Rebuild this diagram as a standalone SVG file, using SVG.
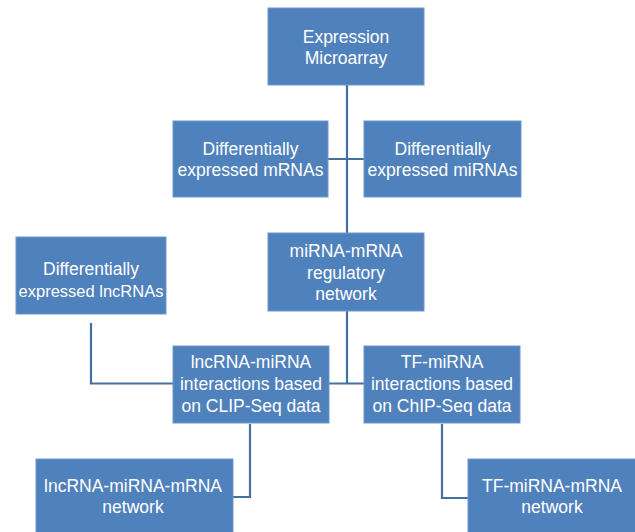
<svg xmlns="http://www.w3.org/2000/svg" width="635" height="532" viewBox="0 0 635 532">
<style>
.box{fill:#4F81BD;stroke:#6F97CB;stroke-width:1}
.t{font-family:"Liberation Sans",Arial,sans-serif;font-size:17.5px;fill:#FFFFFF;text-anchor:middle}
.s{font-size:16.5px}
.c{fill:none;stroke:#44719F;stroke-width:2.2}
</style>
<rect width="635" height="532" fill="#FFFFFF"/>
<g id="connectors">
<path class="c" d="M347,85 V233"/>
<path class="c" d="M328,159 H364"/>
<path class="c" d="M91,323 V383.5 H173"/>
<path class="c" d="M347,311 V383.5"/>
<path class="c" d="M329,383.5 H364"/>
<path class="c" d="M250,424 V497 H233"/>
<path class="c" d="M442,424 V498 H468"/>
</g>
<g id="expression-microarray">
<rect class="box" x="268" y="8" width="156" height="77"/>
<text class="t" x="346" y="43">Expression</text>
<text class="t" x="346" y="64">Microarray</text>
</g>
<g id="diff-mrnas">
<rect class="box" x="173" y="121" width="155" height="76"/>
<text class="t" x="250.5" y="155">Differentially</text>
<text class="t" x="250.5" y="176">expressed mRNAs</text>
</g>
<g id="diff-mirnas">
<rect class="box" x="364" y="121" width="157" height="76"/>
<text class="t" x="442.5" y="155">Differentially</text>
<text class="t" x="442.5" y="176">expressed miRNAs</text>
</g>
<g id="mirna-mrna-network">
<rect class="box" x="268" y="233" width="156" height="78"/>
<text class="t" x="346" y="257">miRNA-mRNA</text>
<text class="t" x="346" y="278.5">regulatory</text>
<text class="t" x="346" y="300">network</text>
</g>
<g id="diff-lncrnas">
<rect class="box" x="16" y="237" width="150" height="77"/>
<text class="t" x="91" y="275">Differentially</text>
<text class="t s" x="91" y="296.5">expressed lncRNAs</text>
</g>
<g id="lncrna-mirna-interactions">
<rect class="box" x="173" y="346" width="156" height="77"/>
<text class="t" x="251" y="368">lncRNA-miRNA</text>
<text class="t" x="251" y="390">interactions based</text>
<text class="t" x="251" y="412">on CLIP-Seq data</text>
</g>
<g id="tf-mirna-interactions">
<rect class="box" x="364" y="346" width="156" height="77"/>
<text class="t" x="442" y="368">TF-miRNA</text>
<text class="t" x="442" y="390">interactions based</text>
<text class="t" x="442" y="412">on ChIP-Seq data</text>
</g>
<g id="lncrna-mirna-mrna-network">
<rect class="box" x="36" y="459" width="197" height="80"/>
<text class="t" x="133" y="492">lncRNA-miRNA-mRNA</text>
<text class="t" x="133" y="513">network</text>
</g>
<g id="tf-mirna-mrna-network">
<rect class="box" x="468" y="459" width="172" height="80"/>
<text class="t" x="552" y="492">TF-miRNA-mRNA</text>
<text class="t" x="552" y="513">network</text>
</g>
</svg>
